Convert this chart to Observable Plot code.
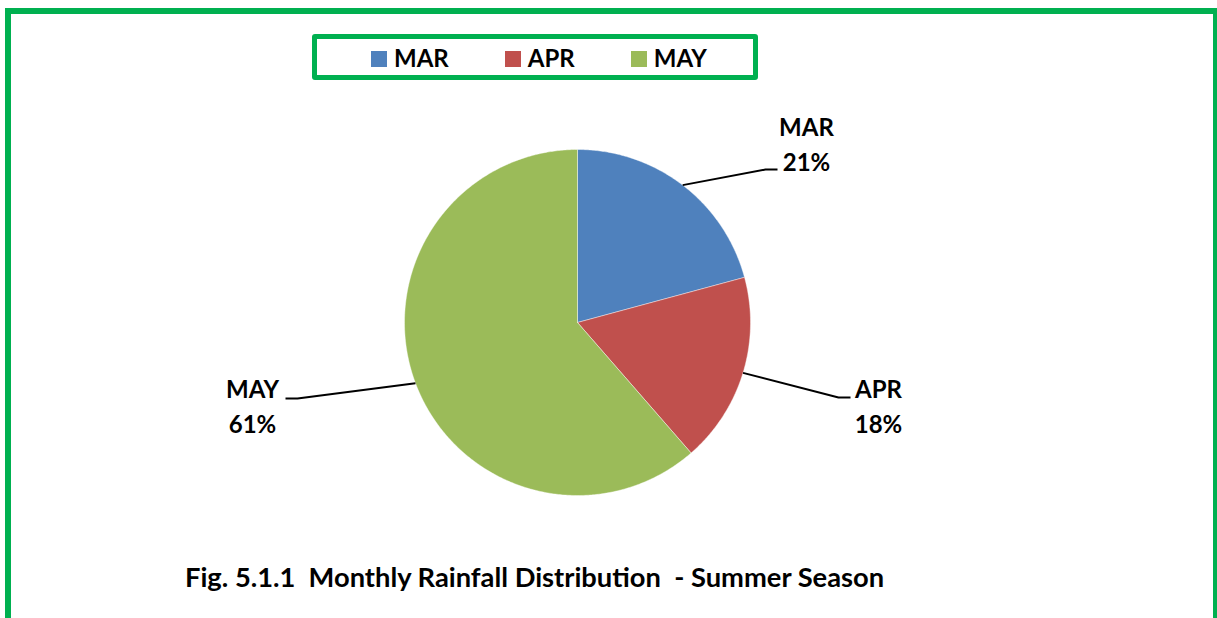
<!DOCTYPE html>
<html><head><meta charset="utf-8">
<script src="https://cdn.jsdelivr.net/npm/d3@7"></script>
<script src="https://cdn.jsdelivr.net/npm/@observablehq/plot@0.6"></script>
<style>
html,body{margin:0;padding:0;background:#fff;overflow:hidden;width:1217px;height:618px;}
#chart{position:absolute;left:0;top:0;}
#frame{position:absolute;left:5px;top:8px;width:1214px;height:700px;border:6px solid #00B050;box-sizing:border-box;}
#legendbox{position:absolute;left:312px;top:34px;width:446px;height:46px;border:5px solid #00B050;border-radius:3px;box-sizing:border-box;background:#fff;}
#legend{position:absolute;left:371px;top:43px;height:28px;}
#caption{position:absolute;left:185px;top:563px;font:700 27.3px Lato;line-height:27.3px;white-space:pre;color:#000;}
#legend .lg-swatches{font:700 24px Lato;margin:0;color:#000;}
#legend .lg-swatches-wrap{min-height:28px;}
#legend .lg-swatch{margin-right:56px;}
#legend .lg-swatch > svg{margin-right:7px;margin-top:2px;}
</style></head>
<body>
<div id="chart"></div>
<div id="frame"></div>
<div id="legendbox"></div>
<div id="legend"></div>
<div id="caption">Fig. 5.1.1  Monthly Rainfall Distribution  - Summer Season</div>
<script>
// ---- data ----
const months = ["MAR", "APR", "MAY"];
const shares = [20.8, 17.8, 61.4];
const pctLabels = ["21%", "18%", "61%"];

// ---- styles ----
const colors = ["#4F81BD", "#C0504D", "#9BBB59"];

// ---- layout (pixels) ----
const W = 1217, H = 618, CX = 577, CY = 322, R = 173;
// offsets from pie centre: elbow, tail end, text centre x, baseline of last line
const labelLayout = {
  MAR: {elbow: [188, -153], tail: [200, -153], tx: 229, base: -152},
  APR: {elbow: [261, 75], tail: [273, 75], tx: 301, base: 110},
  MAY: {elbow: [-280, 76], tail: [-292, 76], tx: -325, base: 110}
};

const data = months.map((m, i) => ({month: m, share: shares[i], pct: pctLabels[i]}));
const arcs = d3.pie().sort(null).value(d => d.share)(data);

const slicePts = arcs.flatMap(p => {
  const m = p.data.month;
  const n = Math.max(2, Math.ceil((p.endAngle - p.startAngle) / (Math.PI / 360)));
  const pts = [{month: m, x: 0, y: 0}];
  for (let i = 0; i <= n; i++) {
    const a = p.startAngle + (p.endAngle - p.startAngle) * i / n;
    pts.push({month: m, x: Math.sin(a), y: -Math.cos(a)});
  }
  pts.push({month: m, x: 0, y: 0});
  return pts;
});

const leaderPts = arcs.flatMap(p => {
  const m = p.data.month, L = labelLayout[m];
  const a = (p.startAngle + p.endAngle) / 2;
  return [
    {month: m, x: Math.sin(a), y: -Math.cos(a)},
    {month: m, x: L.elbow[0] / R, y: L.elbow[1] / R},
    {month: m, x: L.tail[0] / R, y: L.tail[1] / R}
  ];
});

const labels = data.map(d => ({
  text: d.month + "\n" + d.pct,
  x: labelLayout[d.month].tx / R,
  y: labelLayout[d.month].base / R
}));

const plot = Plot.plot({
  width: W,
  height: H,
  margin: 0,
  style: {background: "transparent", overflow: "visible"},
  x: {domain: [-CX / R, (W - CX) / R], range: [0, W], axis: null},
  y: {domain: [-CY / R, (H - CY) / R], range: [0, H], axis: null},
  color: {domain: months, range: colors},
  marks: [
    Plot.line(slicePts, {x: "x", y: "y", z: "month", fill: "month", stroke: "#ffffff", strokeWidth: 0.6, strokeOpacity: 0.7, curve: "linear"}),
    Plot.line(leaderPts, {x: "x", y: "y", z: "month", stroke: "#000", strokeWidth: 2, strokeLinecap: "butt", strokeLinejoin: "miter"}),
    Plot.text(labels, {x: "x", y: "y", text: "text", lineAnchor: "bottom", lineHeight: 1.42, textAnchor: "middle", fontFamily: "Lato", fontWeight: 700, fontSize: 24, fill: "#000"})
  ]
});
document.getElementById("chart").appendChild(plot);

const legend = plot.legend("color", {swatchSize: 16, className: "lg"});
document.getElementById("legend").appendChild(legend);
</script>
</body></html>
